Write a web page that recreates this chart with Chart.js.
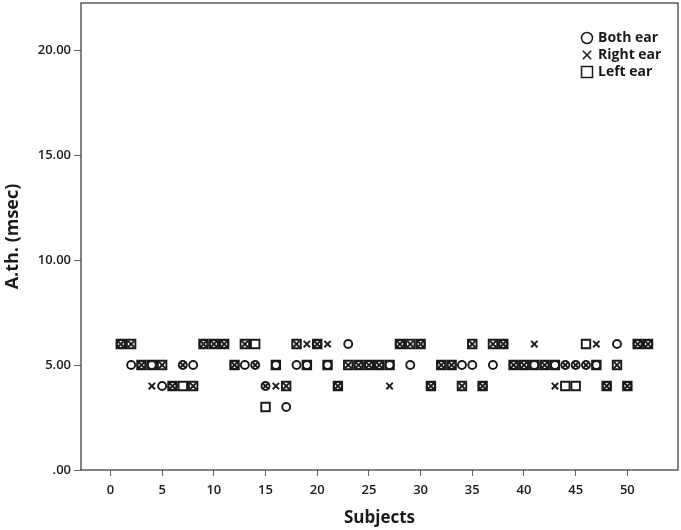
<!DOCTYPE html>
<html>
<head>
<meta charset="utf-8">
<title>A.th. by subject</title>
<script src="https://cdn.jsdelivr.net/npm/chart.js"></script>
<style>
  body { margin: 0; background: #fff; }
  #wrap { position: relative; width: 681px; height: 530px; }
</style>
</head>
<body>
<div id="wrap"><canvas id="chart"></canvas></div>
<script>
// Subjects 1..52 and the three threshold readings (msec)
const subjects = [1, 2, 3, 4, 5, 6, 7, 8, 9, 10, 11, 12, 13, 14, 15, 16, 17, 18, 19, 20,
  21, 22, 23, 24, 25, 26, 27, 28, 29, 30, 31, 32, 33, 34, 35, 36, 37, 38, 39, 40,
  41, 42, 43, 44, 45, 46, 47, 48, 49, 50, 51, 52];

const bothEar = [6, 5, 5, 5, 4, 4, 5, 5, 6, 6, 6, 5, 5, 5, 4, 5, 3, 5, 5, 6,
  5, 4, 6, 5, 5, 5, 5, 6, 5, 6, 4, 5, 5, 5, 5, 4, 5, 6, 5, 5,
  5, 5, 5, 5, 5, 5, 5, 4, 6, 4, 6, 6];

const rightEar = [6, 6, 5, 4, 5, 4, 5, 4, 6, 6, 6, 5, 6, 5, 4, 4, 4, 6, 6, 6,
  6, 4, 5, 5, 5, 5, 4, 6, 6, 6, 4, 5, 5, 4, 6, 4, 6, 6, 5, 5,
  6, 5, 4, 5, 5, 5, 6, 4, 5, 4, 6, 6];

const leftEar = [6, 6, 5, 5, 5, 4, 4, 4, 6, 6, 6, 5, 6, 6, 3, 5, 4, 6, 5, 6,
  5, 4, 5, 5, 5, 5, 5, 6, 6, 6, 4, 5, 5, 4, 6, 4, 6, 6, 5, 5,
  5, 5, 5, 4, 4, 6, 5, 4, 5, 4, 6, 6];

const xTickValues = [0, 5, 10, 15, 20, 25, 30, 35, 40, 45, 50];
const yTickValues = [0, 5, 10, 15, 20];

const seriesNames = ['Both ear', 'Right ear', 'Left ear'];

const FONT = '"Open Sans", "Liberation Sans", sans-serif';
const INK = '#1a1a1a';

function toPoints(values) {
    return subjects.map((s, i) => ({ x: s, y: values[i] }));
}

function fmtY(v) {
    return v.toFixed(2).replace(/^0\./, '.');
}

// Box around the plot area plus the legend in the top right corner
const framePlugin = {
    id: 'frame',
    afterDraw(chart) {
        const { ctx, chartArea: a } = chart;
        ctx.save();
        ctx.strokeStyle = '#333';
        ctx.lineWidth = 1.2;
        ctx.strokeRect(a.left, a.top, a.right - a.left, a.bottom - a.top);

        const sx = a.right - 91;
        const tx = sx + 11;
        const rows = [a.top + 35, a.top + 52, a.top + 69];
        ctx.strokeStyle = INK;
        ctx.lineWidth = 1.5;

        // circle
        ctx.beginPath();
        ctx.arc(sx, rows[0], 5.5, 0, Math.PI * 2);
        ctx.stroke();
        // cross
        ctx.beginPath();
        ctx.moveTo(sx - 4.2, rows[1] - 4.2);
        ctx.lineTo(sx + 4.2, rows[1] + 4.2);
        ctx.moveTo(sx + 4.2, rows[1] - 4.2);
        ctx.lineTo(sx - 4.2, rows[1] + 4.2);
        ctx.stroke();
        // square
        ctx.strokeRect(sx - 5.5, rows[2] - 5.5, 11, 11);

        ctx.fillStyle = INK;
        ctx.font = 'bold 14px ' + FONT;
        ctx.textBaseline = 'middle';
        ctx.textAlign = 'left';
        seriesNames.forEach((name, i) => ctx.fillText(name, tx, rows[i]));
        ctx.restore();
    }
};

const ctx = document.getElementById('chart');

new Chart(ctx, {
    type: 'scatter',
    data: {
        datasets: [
            {
                label: seriesNames[0],
                data: toPoints(bothEar),
                pointStyle: 'circle',
                radius: 4,
                borderWidth: 1.9,
                borderColor: INK,
                backgroundColor: 'rgba(0,0,0,0)'
            },
            {
                label: seriesNames[1],
                data: toPoints(rightEar),
                pointStyle: 'crossRot',
                radius: 4.5,
                borderWidth: 1.9,
                borderColor: INK,
                backgroundColor: 'rgba(0,0,0,0)'
            },
            {
                label: seriesNames[2],
                data: toPoints(leftEar),
                pointStyle: 'rect',
                radius: 6,
                borderWidth: 1.9,
                borderColor: INK,
                backgroundColor: 'rgba(0,0,0,0)'
            }
        ]
    },
    options: {
        responsive: true,
        maintainAspectRatio: false,
        animation: false,
        layout: {
            autoPadding: false,
            padding: { top: 3, right: 3, left: 0, bottom: 0 }
        },
        plugins: {
            legend: { display: false },
            tooltip: { enabled: false }
        },
        scales: {
            x: {
                type: 'linear',
                min: -2.85,
                max: 54.9,
                afterBuildTicks: scale => {
                    scale.ticks = xTickValues.map(v => ({ value: v }));
                },
                afterFit: scale => {
                    scale.height = 60;
                    scale.paddingLeft = 0;
                    scale.paddingRight = 0;
                },
                border: { display: false },
                grid: {
                    drawOnChartArea: false,
                    drawTicks: true,
                    tickLength: 6,
                    color: '#666'
                },
                ticks: {
                    padding: 6,
                    color: INK,
                    font: { family: FONT, size: 13, weight: '600' },
                    callback: v => String(v)
                },
                title: {
                    display: true,
                    text: 'Subjects',
                    color: INK,
                    font: { family: FONT, size: 17, weight: 'bold' },
                    padding: { top: 0, bottom: 2 }
                }
            },
            y: {
                type: 'linear',
                min: 0,
                max: 22.25,
                afterBuildTicks: scale => {
                    scale.ticks = yTickValues.map(v => ({ value: v }));
                },
                afterFit: scale => {
                    scale.width = 81;
                    scale.paddingTop = 0;
                    scale.paddingBottom = 0;
                },
                border: { display: false },
                grid: {
                    drawOnChartArea: false,
                    drawTicks: true,
                    tickLength: 7,
                    color: '#666'
                },
                ticks: {
                    padding: 3,
                    color: INK,
                    font: { family: FONT, size: 13, weight: '600' },
                    callback: v => fmtY(v)
                },
                title: {
                    display: true,
                    text: 'A.th. (msec)',
                    color: INK,
                    font: { family: FONT, size: 18, weight: 'bold' },
                    padding: { top: 2, bottom: 0 }
                }
            }
        }
    },
    plugins: [framePlugin]
});
</script>
</body>
</html>
